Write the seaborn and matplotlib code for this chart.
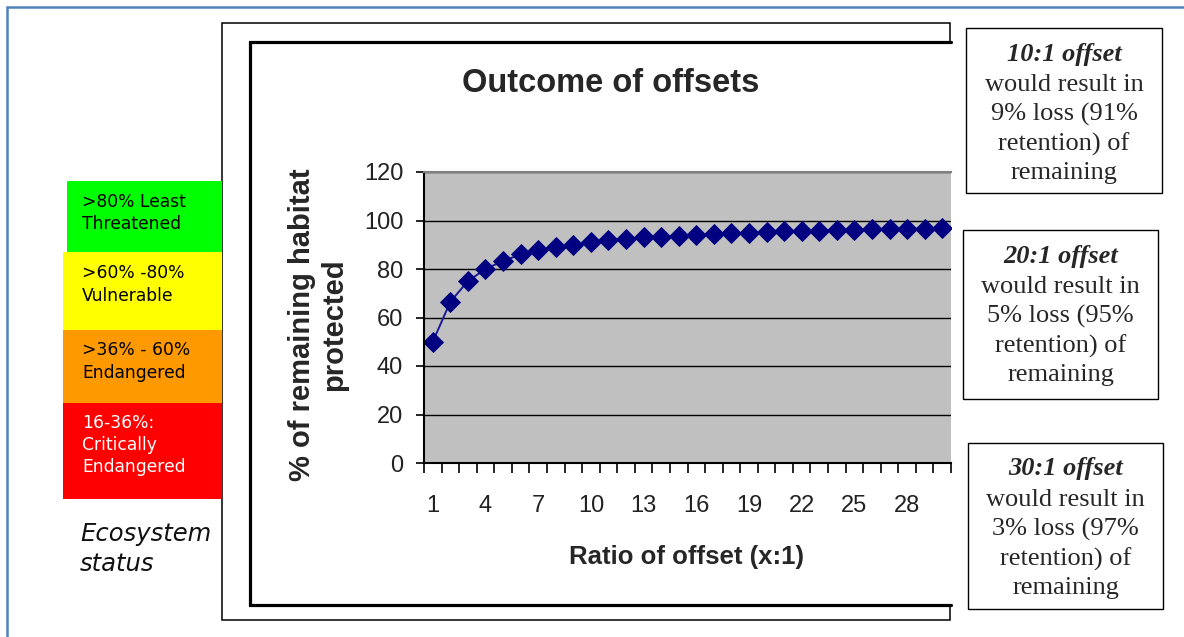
import numpy as np
import pandas as pd
import seaborn as sns
import matplotlib
matplotlib.use('Agg')
import matplotlib.pyplot as plt
from matplotlib.patches import Rectangle
from matplotlib.lines import Line2D

# Data
ratio = [1, 2, 3, 4, 5, 6, 7, 8, 9, 10, 11, 12, 13, 14, 15,
         16, 17, 18, 19, 20, 21, 22, 23, 24, 25, 26, 27, 28, 29, 30]
retained = [50, 66.5, 75, 80, 83.3, 86, 87.8, 88.9, 89.8, 91, 91.8, 92.3, 93, 93.3, 93.8,
            94.1, 94.4, 94.7, 95, 95.2, 95.5, 95.6, 95.8, 96, 96.2, 96.3, 96.4, 96.6, 96.7, 96.8]
xtick_labels = ['1', '4', '7', '10', '13', '16', '19', '22', '25', '28']
ytick_values = [0, 20, 40, 60, 80, 100, 120]

status_labels = ['>80% Least\nThreatened', '>60% -80%\nVulnerable',
                 '>36% - 60%\nEndangered', '16-36%:\nCritically\nEndangered']
status_colors = ['#00FF00', '#FFFF00', '#FF9900', '#FF0000']
status_text_colors = ['black', 'black', 'black', 'white']

note_heads = ['10:1 offset', '20:1 offset', '30:1 offset']
note_bodies = ['would result in\n9% loss (91%\nretention) of\nremaining',
               'would result in\n5% loss (95%\nretention) of\nremaining',
               'would result in\n3% loss (97%\nretention) of\nremaining']

df = pd.DataFrame({'ratio': ratio, 'retained': retained})

W, H = 1184, 637
sns.set_theme(style="white")
plt.rcParams['font.family'] = ['Liberation Sans', 'DejaVu Sans']

fig = plt.figure(figsize=(W / 100, H / 100), dpi=100)
fig.patch.set_facecolor('white')


def box(x0, y0, x1, y1, **kw):
    fig.add_artist(Rectangle((x0 / W, 1 - y1 / H), (x1 - x0) / W, (y1 - y0) / H,
                             transform=fig.transFigure, **kw))


def line(xs, ys, **kw):
    fig.add_artist(Line2D([x / W for x in xs], [1 - y / H for y in ys],
                          transform=fig.transFigure, **kw))


# page frame and chart boxes
box(7, 7, 1300, 700, fill=False, edgecolor='#4F81BD', lw=1.8, zorder=-6)
box(222, 23, 950, 620, facecolor='white', edgecolor='black', lw=1.1, zorder=-5)
box(250, 42, 953, 605, facecolor='white', edgecolor='none', zorder=-4)
line([951, 250, 250, 951], [42, 42, 605, 605], color='black', lw=2.3, zorder=-3,
     solid_joinstyle='miter')

# main plot
ax = fig.add_axes([424 / W, 1 - 463 / H, (951 - 424) / W, (463 - 172) / H])
ax.set_facecolor('#C0C0C0')
sns.lineplot(data=df, x='ratio', y='retained', ax=ax, color='#1A1A96', lw=1.4,
             marker='D', markersize=10, markerfacecolor='#000080',
             markeredgecolor='#000080', markeredgewidth=0.6)
ax.set_xlim(0.5, 30.5)
ax.set_ylim(0, 120)
ax.set_yticks(ytick_values)
ax.yaxis.grid(True, color='black', lw=1.0)
ax.xaxis.grid(False)
ax.set_axisbelow(True)
for s in ['left', 'bottom']:
    ax.spines[s].set_color('black')
    ax.spines[s].set_linewidth(1.5)
ax.spines['top'].set_color('#808080')
ax.spines['top'].set_linewidth(1.5)
ax.spines['right'].set_visible(False)

ax.tick_params(axis='y', which='major', direction='out', length=6, width=1.2,
               color='black', pad=9, labelsize=17, left=True, labelcolor='#222222')
ax.set_xticks(np.arange(0.5, len(ratio) + 1, 1))
ax.set_xticklabels([])
ax.set_xticks([int(t) for t in xtick_labels], minor=True)
ax.set_xticklabels(xtick_labels, minor=True)
ax.tick_params(axis='x', which='major', direction='out', length=7, width=1.2,
               color='black', bottom=True)
ax.tick_params(axis='x', which='minor', length=0, pad=23, labelsize=17,
               bottom=True, labelcolor='#222222')

ax.set_ylabel('% of remaining habitat\nprotected', fontsize=21, fontweight='bold')
ax.yaxis.label.set_va('center')
ax.yaxis.set_label_coords((318 - 424) / 527, (463 - 325) / 291)
ax.set_xlabel('Ratio of offset (x:1)', fontsize=18.5, fontweight='bold')
ax.xaxis.label.set_va('center')
ax.xaxis.set_label_coords((686.5 - 424) / 527, (463 - 557) / 291)

fig.text(611 / W, 1 - 83 / H, 'Outcome of offsets', ha='center', va='center',
         fontsize=23.5, fontweight='bold')

# ecosystem status key
band_geom = [(67, 181, 222, 252), (63, 252, 222, 330), (63, 330, 222, 403), (63, 403, 222, 499)]
band_text_y = [213, 284.5, 361.5, 445]
for (x0, y0, x1, y1), lab, col, tcol, ty in zip(band_geom, status_labels, status_colors,
                                               status_text_colors, band_text_y):
    box(x0, y0, x1, y1, facecolor=col, edgecolor='none', zorder=1)
    fig.text(82 / W, 1 - ty / H, lab, ha='left', va='center', fontsize=12.3,
             color=tcol, family='DejaVu Sans', linespacing=1.3)
fig.text(80 / W, 1 - 549 / H, 'Ecosystem\nstatus', ha='left', va='center', fontsize=17.5,
         style='italic', family='DejaVu Sans', linespacing=1.3, color='#111111')

# notes on the right
note_geom = [(966, 28, 1162, 193), (963, 230, 1158, 399), (968, 443, 1163, 609)]
for (x0, y0, x1, y1), head, body in zip(note_geom, note_heads, note_bodies):
    box(x0, y0, x1, y1, facecolor='white', edgecolor='black', lw=1.0, zorder=1)
    cx = (x0 + x1) / 2
    fig.text(cx / W, 1 - (y0 + 26) / H, head, ha='center', va='center', fontsize=19,
             style='italic', fontweight='bold', family='Liberation Serif')
    fig.text(cx / W, 1 - (y0 + 101) / H, body, ha='center', va='center', fontsize=19,
             family='Liberation Serif', linespacing=1.38)

fig.savefig('out.png', dpi=100, facecolor='white')
